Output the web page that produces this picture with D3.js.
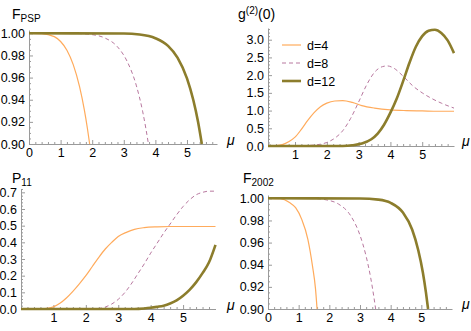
<!DOCTYPE html>
<html>
<head>
<meta charset="utf-8">
<script src="https://cdn.jsdelivr.net/npm/d3@7"></script>
<style>
  body { margin: 0; background: #fff; }
  svg { font-family: "Liberation Sans", Arial, sans-serif; }
  .axis path, .axis line { stroke: #9a9a9a; }
  .axis text { fill: #000; font-size: 12.5px; }
</style>
</head>
<body>
<div class="chart"></div>
<script>
// F_PSP
var fpsp4 = [[0,1],[0.4,0.9998],[0.8,0.997],[1.0,0.9926],[1.2,0.9847],[1.4,0.9717],[1.6,0.9518],[1.75,0.931],[1.85,0.9138],[1.92,0.90]];
var fpsp8 = [[0,1],[1.5,0.9998],[2.0,0.9988],[2.4,0.9958],[2.8,0.9878],[3.1,0.975],[3.4,0.9525],[3.6,0.929],[3.7,0.9138],[3.78,0.90]];
var fpsp12 = [[0,1],[3.0,0.9998],[3.5,0.9989],[4.0,0.9956],[4.4,0.9887],[4.7,0.9781],[5.0,0.9593],[5.2,0.9397],[5.35,0.92],[5.47,0.90]];

// g2(0)
var g2_4 = [[0.15,0],[0.4,0.01],[0.6,0.04],[0.8,0.12],[1.0,0.25],[1.2,0.47],[1.4,0.72],[1.6,0.94],[1.8,1.11],[2.0,1.21],[2.25,1.27],[2.5,1.28],[2.8,1.23],[3.1,1.14],[3.5,1.07],[4.0,1.02],[4.5,1.00],[5.0,0.99],[5.5,0.98],[6.0,0.98]];
var g2_8 = [[0.15,0],[1.2,0],[1.5,0.02],[1.8,0.05],[2.0,0.1],[2.25,0.22],[2.5,0.43],[2.75,0.78],[3.0,1.24],[3.25,1.72],[3.5,2.08],[3.75,2.24],[3.9,2.26],[4.1,2.2],[4.4,1.97],[4.7,1.70],[5.0,1.50],[5.3,1.34],[5.6,1.21],[6.0,1.07]];
var g2_12 = [[0.15,0],[2.5,0],[2.8,0.02],[3.1,0.07],[3.4,0.19],[3.6,0.35],[3.8,0.60],[4.0,0.94],[4.2,1.34],[4.4,1.83],[4.6,2.35],[4.8,2.80],[5.0,3.10],[5.2,3.25],[5.4,3.28],[5.6,3.19],[5.8,2.98],[6.0,2.62]];

// P11
var p11_4 = [[0,0],[0.6,0],[0.8,0.004],[1.0,0.013],[1.2,0.034],[1.4,0.066],[1.6,0.106],[1.8,0.151],[2.0,0.2],[2.2,0.255],[2.4,0.31],[2.6,0.36],[2.8,0.40],[3.0,0.435],[3.25,0.46],[3.5,0.478],[3.8,0.488],[4.2,0.493],[4.6,0.495],[5.0,0.495],[6.0,0.495]];
var p11_8 = [[0,0],[2.2,0],[2.4,0.003],[2.6,0.012],[2.8,0.03],[3.0,0.058],[3.2,0.098],[3.4,0.15],[3.6,0.21],[3.8,0.27],[4.0,0.335],[4.2,0.395],[4.4,0.455],[4.6,0.51],[4.8,0.565],[5.0,0.615],[5.2,0.655],[5.4,0.685],[5.6,0.70],[5.8,0.707],[6.0,0.707]];
var p11_12 = [[0,0],[3.5,0],[3.8,0.003],[4.0,0.007],[4.2,0.013],[4.4,0.02],[4.6,0.033],[4.8,0.052],[5.0,0.08],[5.2,0.115],[5.4,0.16],[5.6,0.215],[5.8,0.28],[6.0,0.385]];

// F_2002
var f2002_4 = [[0,1],[0.4,0.9996],[0.7,0.9962],[0.9,0.9915],[1.1,0.981],[1.3,0.963],[1.45,0.939],[1.55,0.918],[1.6,0.90]];
var f2002_8 = [[0,1],[1.5,0.9998],[1.9,0.9986],[2.3,0.9948],[2.7,0.9841],[3.0,0.9666],[3.2,0.9476],[3.35,0.928],[3.45,0.9113],[3.51,0.90]];
var f2002_12 = [[0,1],[3.0,0.9999],[3.6,0.9988],[4.0,0.9959],[4.4,0.9871],[4.7,0.9718],[4.9,0.9531],[5.05,0.933],[5.15,0.915],[5.22,0.90]];

var legendLabels = ["d=4", "d=8", "d=12"];

var styles = [
  { color: "#ffab5c", width: 1.2, dash: null },
  { color: "#b8789f", width: 1.0, dash: "4,3" },
  { color: "#8c7d2c", width: 2.6, dash: null }
];

var svg = d3.select('.chart')
  .append('svg')
    .attr('width', 471)
    .attr('height', 331);

var panels = [
  { series: [fpsp4, fpsp8, fpsp12], xd: [0, 5.95], xr: [29, 217], yd: [0.90, 1.003], yr: [144, 30],
    yMajor: [0.90, 0.92, 0.94, 0.96, 0.98, 1.00], yMinorStep: 0.005, yFmt: ".2f", xMajor: [0,1,2,3,4,5],
    title: ["F", "PSP", "sub"], tx: 12, ty: 19, mx: 227, my: 145 },
  { series: [g2_4, g2_8, g2_12], xd: [0.15, 6], xr: [268, 454], yd: [0, 3.33], yr: [146, 28],
    yMajor: [0,0.5,1,1.5,2,2.5,3], yMinorStep: 0.1, yFmt: ".1f", xMajor: [1,2,3,4,5],
    title: ["g", "(2)", "sup", "(0)"], tx: 238, ty: 19, mx: 462, my: 146, legend: true },
  { series: [p11_4, p11_8, p11_12], xd: [0, 6], xr: [21, 215.5], yd: [0, 0.72], yr: [309, 189],
    yMajor: [0,0.1,0.2,0.3,0.4,0.5,0.6,0.7], yMinorStep: 0.02, yFmt: ".1f", xMajor: [1,2,3,4,5],
    title: ["P", "11", "sub"], tx: 12, ty: 183, mx: 227, my: 310 },
  { series: [f2002_4, f2002_8, f2002_12], xd: [0, 6], xr: [268, 452], yd: [0.90, 1.003], yr: [309, 195],
    yMajor: [0.90, 0.92, 0.94, 0.96, 0.98, 1.00], yMinorStep: 0.005, yFmt: ".2f", xMajor: [0,1,2,3,4,5],
    title: ["F", "2002", "sub"], tx: 243, ty: 183, mx: 462, my: 309 }
];

panels.forEach(function(p) {
  var x = d3.scaleLinear().domain(p.xd).range(p.xr);
  var y = d3.scaleLinear().domain(p.yd).range(p.yr);
  var x0 = p.xr[0], y0 = p.yr[0];

  var xMinor = d3.range(Math.ceil(p.xd[0] * 5) / 5, p.xd[1] + 1e-9, 0.2)
    .filter(function(v) { return Math.abs(v - Math.round(v)) > 1e-6; });
  var yMinor = d3.range(p.yd[0], p.yd[1] + 1e-9, p.yMinorStep)
    .filter(function(v) { return !p.yMajor.some(function(m) { return Math.abs(m - v) < 1e-6; }); });

  // minor ticks
  svg.append('g').attr('class', 'axis')
    .attr('transform', `translate(0, ${y0})`)
    .call(d3.axisBottom(x).tickValues(xMinor).tickSize(-2).tickFormat(""))
    .call(function(g) { g.select('.domain').remove(); });
  svg.append('g').attr('class', 'axis')
    .attr('transform', `translate(${x0}, 0)`)
    .call(d3.axisLeft(y).tickValues(yMinor).tickSize(-2).tickFormat(""))
    .call(function(g) { g.select('.domain').remove(); });

  // major ticks
  svg.append('g').attr('class', 'axis')
    .attr('transform', `translate(0, ${y0})`)
    .call(d3.axisBottom(x).tickValues(p.xMajor).tickSize(-4).tickSizeOuter(0).tickPadding(4).tickFormat(d3.format("d")));
  svg.append('g').attr('class', 'axis')
    .attr('transform', `translate(${x0}, 0)`)
    .call(d3.axisLeft(y).tickValues(p.yMajor).tickSize(-4).tickSizeOuter(0).tickPadding(4).tickFormat(d3.format(p.yFmt)));

  var line = d3.line()
    .x(function(d) { return x(d[0]); })
    .y(function(d) { return y(d[1]); })
    .curve(d3.curveMonotoneX);

  p.series.forEach(function(s, i) {
    svg.append('path')
      .datum(s)
      .attr('d', line)
      .attr('fill', 'none')
      .attr('stroke', styles[i].color)
      .attr('stroke-width', styles[i].width)
      .attr('stroke-dasharray', styles[i].dash);
  });

  // title
  var t = svg.append('text')
    .attr('x', p.tx).attr('y', p.ty)
    .attr('font-size', 14);
  t.append('tspan').text(p.title[0]);
  if (p.title[2] === 'sub') {
    t.append('tspan').attr('font-size', 10).attr('dy', 3).text(p.title[1]);
  } else {
    t.append('tspan').attr('font-size', 10).attr('dy', -5).text(p.title[1]);
    t.append('tspan').attr('dy', 5).text(p.title[3]);
  }

  // mu label
  svg.append('text')
    .attr('x', p.mx).attr('y', p.my)
    .attr('font-size', 14)
    .attr('font-style', 'italic')
    .text('μ');

  if (p.legend) {
    legendLabels.forEach(function(lab, i) {
      var ly = 45 + i * 18;
      svg.append('line')
        .attr('x1', 282).attr('x2', 301)
        .attr('y1', ly).attr('y2', ly)
        .attr('stroke', styles[i].color)
        .attr('stroke-width', styles[i].width)
        .attr('stroke-dasharray', styles[i].dash);
      svg.append('text')
        .attr('x', 307).attr('y', ly + 4.5)
        .attr('font-size', 12.5)
        .text(lab);
    });
  }
});
</script>
</body>
</html>
